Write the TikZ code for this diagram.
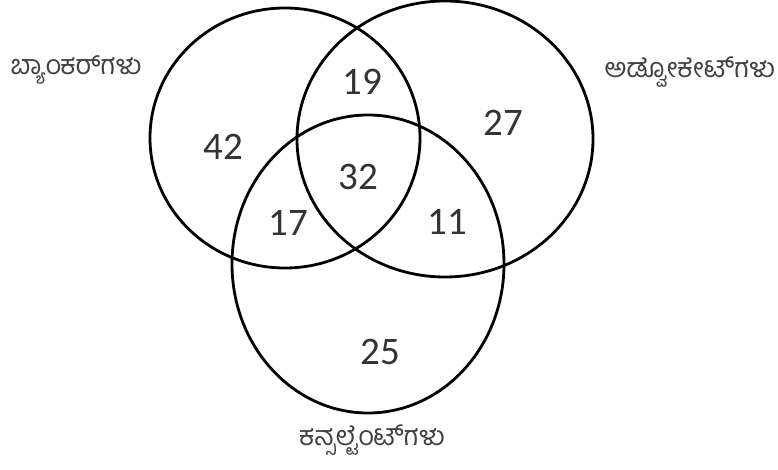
\documentclass[tikz,border=0pt]{standalone}
\usepackage{fontspec}
\setmainfont{Carlito}
\newfontfamily\kannadafont[Script=Kannada]{Hind Mysuru}
\usetikzlibrary{positioning}

\begin{document}
\begin{tikzpicture}[
    x=1pt, y=-1pt,
    set/.style={line width=2.8pt},
    count/.style={font=\fontsize{39}{42}\selectfont, text=black!80},
    setname/.style={font=\kannadafont\fontsize{27}{30}\selectfont, text=black!75}
]
    \useasboundingbox (0,0) rectangle (778,470);

    % Sets
    \coordinate (bank) at (285,138);
    \coordinate (adv) at (445,139);
    \coordinate (cons) at (368,264);
    \draw[set] (bank) ellipse [x radius=135, y radius=130];
    \draw[set] (adv) ellipse [x radius=148, y radius=138];
    \draw[set] (cons) ellipse [x radius=136, y radius=149];

    % Counts
    \node[count] (onlybank) at (223,147) {42};
    \node[count] (bankadv) at (362,82) {19};
    \node[count] (onlyadv) at (503,123) {27};
    \node[count] (all) at (358,177) {32};
    \node[count] (bankcons) at (288,223) {17};
    \node[count] (advcons) at (447,222) {11};
    \node[count] (onlycons) at (380,352) {25};

    % Set names
    \node[setname] (bankname) at (76,70) {ಬ್ಯಾಂಕರ್‌ಗಳು};
    \node[setname] (advname) at (690,72) {ಅಡ್ವೋಕೇಟ್‌ಗಳು};
    \node[setname] (consname) at (372,440) {ಕನ್ಸಲ್ಟೆಂಟ್‌ಗಳು};
\end{tikzpicture}
\end{document}
